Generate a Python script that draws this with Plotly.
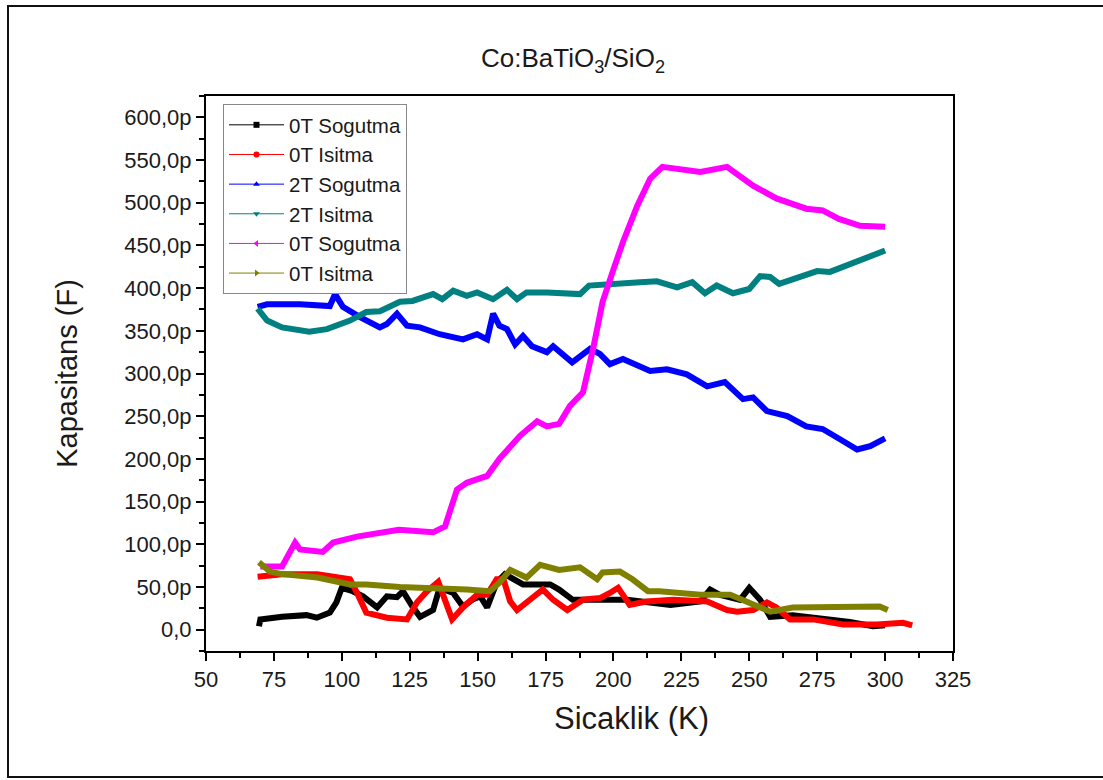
import plotly.graph_objects as go

# ---- data (temperature K, capacitance pF) ----
black_x = [69.5, 70, 78, 87, 90.8, 95.6, 98, 100, 104, 107.8, 113, 116.6, 120.3, 122.5, 126, 128.8, 133.6, 136, 141, 144.6,
           148, 151, 153.5, 157, 160, 163, 166.7, 176.7, 180, 185, 195, 205, 221, 232, 235.6, 239, 246.6, 250, 254, 257.7,
           266, 276, 287, 295.6, 300]
black_y = [4, 12, 15, 17, 14, 20, 32, 49, 45, 39, 26, 39, 38, 45, 27, 15, 23, 49, 43, 27,
           35, 39, 26, 55, 65, 59, 53, 53, 47, 35, 35, 35, 29, 33, 47, 41, 35, 49, 35, 15,
           17, 14, 9, 4, 5]

red_x = [69, 78, 91, 103, 105.6, 109, 116.6, 124, 127.7, 131.4, 135.5, 138.7, 140.6, 144.6, 149.8, 153.5, 157, 159.5, 162,
         164.5, 170, 174, 177.8, 183, 188.8, 195, 198.7, 201.7, 206, 212, 222, 234.5, 241.8, 245.5, 251.4, 256.5, 260, 265,
         273.5, 284.5, 297, 306.6, 310]
red_y = [62, 65, 65, 59, 43, 20, 14, 12, 32, 45, 56, 27, 12, 26, 41, 41, 59, 59, 33,
         23, 37, 47, 35, 23, 35, 37, 43, 49, 29, 33, 35, 33, 23, 21, 23, 32, 26, 12,
         12, 6, 6, 8, 5]

blue_x = [69, 72.5, 84.6, 95.6, 97.5, 100.4, 106.7, 114, 116.6, 120.3, 124, 128.8, 136, 144.6, 149.8, 153.5, 155.7, 158,
          160.8, 163.8, 166.7, 170, 175.5, 177.8, 184.8, 191.4, 195, 198.7, 203.5, 213.5, 219.7, 227, 234.5, 241, 247.7,
          251.4, 256.5, 264, 271, 277, 283.4, 289.7, 294.5, 300]
blue_y = [378, 381, 381, 379, 393, 378, 366, 354, 358, 370, 356, 354, 346, 340, 346, 340, 370, 356,
          352, 334, 344, 332, 325, 332, 313, 329, 323, 311, 317, 303, 305, 299, 285, 290, 270,
          272, 256, 250, 238, 235, 223, 211, 215, 224]

teal_x = [69, 72.5, 78, 88, 94.5, 103, 109, 114, 121.4, 126, 133.6, 137, 141, 146, 149.8, 155.7, 160.8, 164.5, 168, 175.5,
          187.7, 191, 209.8, 216, 223.4, 229, 233.7, 238, 244, 250, 254, 257.7, 261, 268.7, 275, 279.7, 287, 292, 300]
teal_y = [376, 362, 354, 349, 352, 362, 372, 373, 384, 385, 393, 387, 397, 391, 395, 387, 398, 387, 395, 395,
          393, 403, 407, 408, 401, 407, 394, 403, 394, 399, 414, 413, 405, 413, 420, 419, 428, 434, 444]

magenta_x = [70, 78, 82.8, 84.6, 93, 96.8, 105.6, 121, 133.6, 138, 142.4, 146, 153.5, 158, 165.6, 171.9, 175.5, 180, 184,
             188.8, 192.5, 196, 200, 203.5, 208.7, 213.5, 218, 232, 241.8, 246.6, 251.4, 260, 271, 277, 283, 290.8, 300]
magenta_y = [74, 74, 102, 94, 91, 102, 109, 117, 114, 121, 164, 172, 180, 200, 227, 244, 238, 241, 262,
             278, 329, 384, 422, 454, 496, 528, 542, 536, 542, 532, 520, 505, 493, 491, 481, 473, 472]

olive_x = [69.5, 73.5, 78, 91, 103, 109, 121.4, 133.6, 146, 154.6, 158, 162, 168, 173, 180, 187.7, 194, 196, 202.4, 207,
           212.7, 217, 232, 243, 249, 257.7, 266, 278.6, 290.8, 298, 301]
olive_y = [79, 68, 65, 61, 53, 53, 50, 49, 47, 45, 55, 70, 61, 76, 70, 73, 59, 67, 68, 59,
           45, 45, 41, 41, 33, 21, 26, 26, 26, 27, 23]

names = ["0T Sogutma", "0T Isitma", "2T Sogutma", "2T Isitma", "0T Sogutma", "0T Isitma"]
colors = ["#000000", "#FF0000", "#0000FF", "#008080", "#FF00FF", "#808000"]
symbols = ["square", "circle", "triangle-up", "triangle-down", "triangle-left", "triangle-right"]
series = [(black_x, black_y), (red_x, red_y), (blue_x, blue_y), (teal_x, teal_y),
          (magenta_x, magenta_y), (olive_x, olive_y)]

y_ticks = list(range(0, 601, 50))
y_labels = ["0,0" if v == 0 else f"{v},0p" for v in y_ticks]

FONT = "Arial, Liberation Sans, sans-serif"
TXT = "#1a1a1a"

fig = go.Figure()
for (xs, ys), c in zip(series, colors):
    fig.add_trace(go.Scatter(x=xs, y=ys, mode="lines", line=dict(color=c, width=6),
                             showlegend=False, hoverinfo="skip"))
for i, (n, c, s) in enumerate(zip(names, colors, symbols)):
    fig.add_trace(go.Scatter(x=[None], y=[None], mode="lines+markers", name=n,
                             legendgroup=f"g{i}",
                             line=dict(color=c, width=1), marker=dict(color=c, symbol=s, size=6)))

axis_common = dict(showline=True, linecolor="#000", linewidth=2, mirror=True, showgrid=False,
                   zeroline=False, ticks="outside", ticklen=8, tickwidth=2, tickcolor="#000",
                   tickfont=dict(family=FONT, size=22, color=TXT))

fig.update_xaxes(range=[50, 325], dtick=25, tick0=50,
                 minor=dict(dtick=12.5, ticklen=5, tickwidth=2, tickcolor="#000", ticks="outside"),
                 **axis_common)
fig.update_yaxes(range=[-25, 625], tickvals=y_ticks, ticktext=y_labels,
                 minor=dict(dtick=25, tick0=0, ticklen=5, tickwidth=2, tickcolor="#000", ticks="outside"),
                 title=dict(text="Kapasitans (F)", font=dict(family=FONT, size=29, color=TXT), standoff=38),
                 **axis_common)

L, R, T, B = 206, 150, 96, 129
W, H = 1103, 780
pw, ph = W - L - R, H - T - B

def px(x):
    return (x - L) / pw

def py(y):
    return (H - B - y) / ph

fig.add_shape(type="rect", xref="paper", yref="paper",
              x0=px(8), x1=px(1115), y0=py(777), y1=py(6),
              line=dict(color="#111", width=2), fillcolor="rgba(0,0,0,0)")

fig.add_annotation(text="Sicaklik (K)", xref="paper", yref="paper", x=px(631), y=py(718),
                   xanchor="center", yanchor="middle", showarrow=False,
                   font=dict(family=FONT, size=31, color=TXT))

fig.update_layout(
    width=W, height=H,
    margin=dict(l=L, r=R, t=T, b=B),
    paper_bgcolor="white", plot_bgcolor="white",
    font=dict(family=FONT, color=TXT),
    title=dict(text="Co:BaTiO<sub>3</sub>/SiO<sub>2</sub>", xref="paper", x=px(573), xanchor="center",
               yref="container", y=1 - 58 / H, yanchor="middle",
               font=dict(family=FONT, size=26, color=TXT)),
    legend=dict(x=px(223), y=py(104), xanchor="left", yanchor="top",
                bordercolor="#888", borderwidth=1, bgcolor="white",
                font=dict(family=FONT, size=20.5, color=TXT),
                traceorder="grouped", tracegroupgap=0, itemwidth=55),
)

fig.write_html("out.html")
